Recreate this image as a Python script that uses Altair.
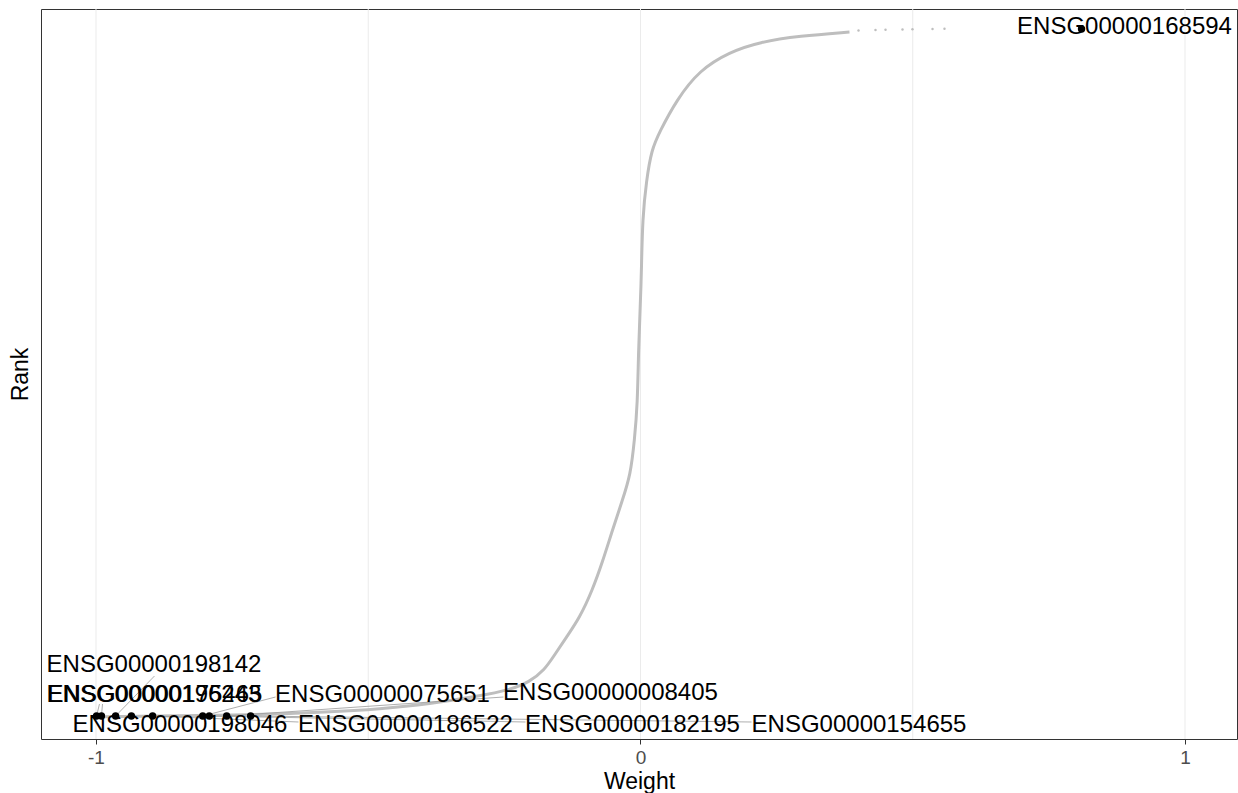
import altair as alt
import pandas as pd

# Gray rank curve (weight, rank)
curve_w = [-0.9991, -0.9017, -0.7181, -0.5712, -0.4793, -0.3875, -0.2957, -0.2406, -0.2039,
           -0.1763, -0.1579, -0.1359, -0.1120, -0.0882, -0.0698, -0.0514, -0.0331, -0.0184,
           -0.0110, -0.0055, -0.0037, 0.0, 0.0018, 0.0037, 0.0110, 0.0202, 0.0349, 0.0661,
           0.1084, 0.1635, 0.2185, 0.2920, 0.3838]
curve_r = [0, 20, 40, 100, 160, 260, 420, 540, 700, 940, 1240, 1600, 1980, 2540, 3100, 3740,
           4340, 4840, 5540, 6260, 7340, 8340, 8940, 9980, 10740, 11340, 11700, 12340, 12940,
           13300, 13500, 13620, 13700]
# Sparse tail points at the top
tail_w = [0.4004, 0.4316, 0.4500, 0.4812, 0.4995, 0.5363, 0.5583]
tail_r = [13730, 13740, 13745, 13750, 13755, 13760, 13765]

# Highlighted genes
gene_names = ["ENSG00000196243", "ENSG00000175465", "ENSG00000198142", "ENSG00000198046",
              "ENSG00000186522", "ENSG00000075651", "ENSG00000182195", "ENSG00000008405",
              "ENSG00000154655", "ENSG00000168594"]
gene_w = [-0.999, -0.990, -0.964, -0.935, -0.896, -0.804, -0.792, -0.760, -0.716, 0.810]
gene_r = [20, 20, 20, 20, 20, 20, 20, 20, 20, 13760]
label_w = [-0.8935, -0.8917, -0.8935, -0.8457, -0.4316, -0.4738, -0.0147, -0.0551, 0.4013, 0.8889]
label_r = [440, 440, 1040, -160, -160, 440, -160, 480, -160, 13800]
seg_w2 = [-0.9936, -0.9880, -0.8926, -0.935, -0.6281, -0.6703, -0.2112, -0.2516, 0.2039, 0.810]
seg_r2 = [260, 260, 820, 20, -100, 400, -100, 400, -100, 13760]

grid_vals = [-1.0, -0.5, 0.0, 0.5, 1.0]

XDOM = [-1.101, 1.0955]
YDOM = [-440, 14160]

xs = alt.Scale(domain=XDOM, nice=False, zero=False)
ys = alt.Scale(domain=YDOM, nice=False, zero=False)

FONT = "Liberation Sans"

xaxis = alt.Axis(
    values=[-1, 0, 1], grid=False, domain=False, title="Weight",
    labelExpr="'' + datum.value", labelFont=FONT, labelFontSize=19,
    labelColor="#4D4D4D", labelPadding=4, tickColor="#333333", tickSize=5,
    titleFont=FONT, titleFontSize=23, titleFontWeight="normal", titleColor="black",
    titlePadding=3)
yaxis = alt.Axis(
    title="Rank", labels=False, ticks=False, domain=False, grid=False,
    titleFont=FONT, titleFontSize=23, titleFontWeight="normal", titleColor="black",
    titlePadding=9)

curve_df = pd.DataFrame({"w": curve_w, "r": curve_r})
tail_df = pd.DataFrame({"w": tail_w, "r": tail_r})
gene_df = pd.DataFrame({"gene": gene_names, "w": gene_w, "r": gene_r,
                        "lw": label_w, "lr": label_r, "w2": seg_w2, "r2": seg_r2})
grid_df = pd.DataFrame({"w": grid_vals, "r": [YDOM[0]] * 5, "r2": [YDOM[1]] * 5})

grid = alt.Chart(grid_df).mark_rule(color="#EBEBEB", strokeWidth=1).encode(
    x=alt.X("w:Q", scale=xs, axis=xaxis),
    y=alt.Y("r:Q", scale=ys, axis=yaxis), y2="r2:Q",
)

curve = alt.Chart(curve_df).mark_line(color="#BEBEBE", strokeWidth=3, interpolate="basis").encode(
    x=alt.X("w:Q", scale=xs, axis=xaxis),
    y=alt.Y("r:Q", scale=ys, axis=yaxis),
    order="r:Q",
)

tail = alt.Chart(tail_df).mark_circle(color="#BEBEBE", size=6, opacity=1).encode(
    x=alt.X("w:Q", scale=xs, axis=xaxis),
    y=alt.Y("r:Q", scale=ys, axis=yaxis),
)

segs = alt.Chart(gene_df).mark_rule(color="#999999", strokeWidth=0.8).encode(
    x=alt.X("w:Q", scale=xs, axis=xaxis), x2="w2:Q",
    y=alt.Y("r:Q", scale=ys, axis=yaxis), y2="r2:Q",
)

pts = alt.Chart(gene_df).mark_circle(color="black", size=55, opacity=1).encode(
    x=alt.X("w:Q", scale=xs, axis=xaxis),
    y=alt.Y("r:Q", scale=ys, axis=yaxis),
)

labels = alt.Chart(gene_df).mark_text(font=FONT, fontSize=24, color="black",
                                      align="center", baseline="middle").encode(
    x=alt.X("lw:Q", scale=xs, axis=xaxis),
    y=alt.Y("lr:Q", scale=ys, axis=yaxis),
    text="gene:N",
)

chart = alt.layer(grid, curve, tail, segs, pts, labels).properties(
    width=1196, height=730,
    autosize=alt.AutoSizeParams(type="none"),
    padding={"left": 41, "top": 9, "right": 1, "bottom": 54},
    background="white",
).configure_view(stroke="#333333", strokeWidth=1)

chart.save("out.html", embed_options={"renderer": "svg", "actions": False})
